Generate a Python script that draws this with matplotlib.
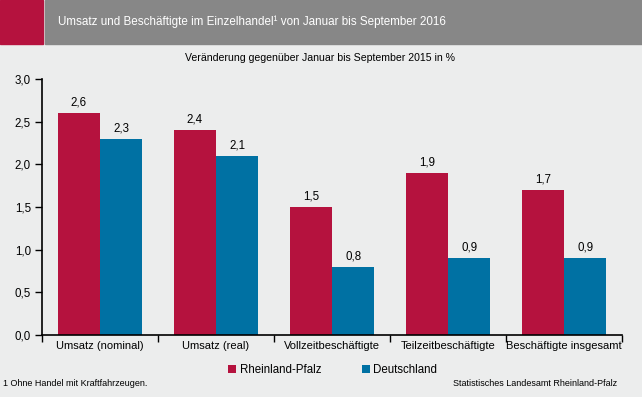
import numpy as np
import matplotlib.pyplot as plt
from matplotlib.patches import Rectangle

categories = ["Umsatz (nominal)", "Umsatz (real)", "Vollzeitbeschäftigte",
              "Teilzeitbeschäftigte", "Beschäftigte insgesamt"]
rlp = [2.6, 2.4, 1.5, 1.9, 1.7]
de = [2.3, 2.1, 0.8, 0.9, 0.9]
series_names = ["Rheinland-Pfalz", "Deutschland"]

red = "#B5123E"
blue = "#0071A3"
bg = "#ECEDED"

plt.rcParams['font.family'] = ['Liberation Sans', 'DejaVu Sans']

fig = plt.figure(figsize=(6.42, 3.97), dpi=100, facecolor=bg)

# header band
fig.patches.append(Rectangle((0, 1 - 44 / 397), 43 / 642, 44 / 397,
                             transform=fig.transFigure, color=red, zorder=0))
fig.patches.append(Rectangle((45 / 642, 1 - 44 / 397), 1, 44 / 397,
                             transform=fig.transFigure, color="#878787", zorder=0))
fig.text(58 / 642, 1 - 22 / 397,
         "Umsatz und Beschäftigte im Einzelhandel¹ von Januar bis September 2016",
         color="white", fontsize=8.4, va="center", ha="left")
fig.text(320 / 642, 1 - 58 / 397, "Veränderung gegenüber Januar bis September 2015 in %",
         fontsize=7.6, va="center", ha="center")

ax = fig.add_axes([42 / 642, 1 - 335 / 397, 580 / 642, 256 / 397])
ax.set_facecolor(bg)

x = np.arange(len(categories))
w = 0.365
b1 = ax.bar(x - w / 2, rlp, w, color=red, label=series_names[0])
b2 = ax.bar(x + w / 2, de, w, color=blue, label=series_names[1])
for bars, vals in ((b1, rlp), (b2, de)):
    for r, v in zip(bars, vals):
        ax.text(r.get_x() + r.get_width() / 2, v + 0.05, f"{v:.1f}".replace(".", ","),
                ha="center", va="bottom", fontsize=8.3)

ax.set_xlim(-0.5, len(categories) - 0.5)
ax.set_ylim(0, 3)
ax.set_yticks(np.arange(0, 3.01, 0.5))
ax.set_yticklabels([f"{t:.1f}".replace(".", ",") for t in np.arange(0, 3.01, 0.5)],
                   fontsize=8.3)
ax.set_xticks(np.arange(-0.5, len(categories)))
ax.set_xticklabels([])
ax.set_xticks(x, minor=True)
ax.set_xticklabels(categories, minor=True, fontsize=8)
ax.tick_params(axis="x", which="minor", length=0, pad=4)
ax.tick_params(axis="x", which="major", length=5, width=1, direction="out")
ax.tick_params(axis="y", length=5, width=1, direction="out", pad=3)
for s in ["top", "right"]:
    ax.spines[s].set_visible(False)
ax.spines["left"].set_linewidth(1.2)
ax.spines["bottom"].set_linewidth(1.2)

fig.legend(handles=[b1, b2], loc="center left", bbox_to_anchor=(218 / 642, 1 - 370 / 397),
           ncol=2, frameon=False, fontsize=8.3, handlelength=0.7, handleheight=0.7,
           handletextpad=0.3, columnspacing=3.5)

fig.text(3 / 642, 1 - 384 / 397, "1 Ohne Handel mit Kraftfahrzeugen.", fontsize=6.5,
         va="center", ha="left")
fig.text(617 / 642, 1 - 384 / 397, "Statistisches Landesamt Rheinland-Pfalz", fontsize=6.5,
         va="center", ha="right")

fig.savefig("out.png", dpi=100, facecolor=bg)
